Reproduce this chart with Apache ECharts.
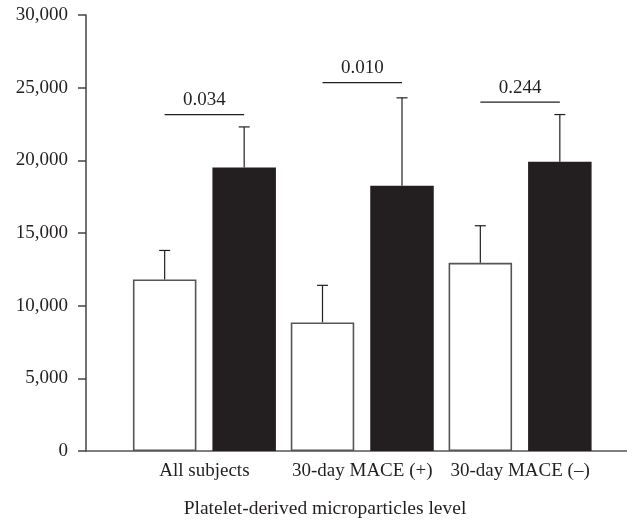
<!DOCTYPE html>
<html>
<head>
<meta charset="utf-8">
<script src="https://cdn.jsdelivr.net/npm/echarts@6/dist/echarts.min.js"></script>
<style>
  html, body { margin: 0; padding: 0; background: #fff; }
  #chart { width: 627px; height: 525px; }
</style>
</head>
<body>
<div id="chart"></div>
<script>
const categories = ['All subjects', '30-day MACE (+)', '30-day MACE (–)'];
const whiteMeans = [11800, 8850, 12950];
const whiteUpper = [13800, 11400, 15500];
const blackMeans = [19500, 18250, 19900];
const blackUpper = [22300, 24300, 23150];
const pValues = ['0.034', '0.010', '0.244'];
const bracketLevels = [23150, 25350, 24000];
const yTicks = [0, 5000, 10000, 15000, 20000, 25000, 30000];

const ink = '#231f20';
const font = '"Liberation Serif", "Times New Roman", serif';
const barWidth = 63.5;
const barGapPx = 16;
const halfOffset = (barWidth + barGapPx) / 2;

const chart = echarts.init(document.getElementById('chart'));

// upward-only error bar with a small cap
const errorRender = side => (params, api) => {
  const i = api.value(0);
  const base = api.coord([i, api.value(1)]);
  const top = api.coord([i, api.value(2)]);
  const x = base[0] + side * halfOffset;
  return {
    type: 'group',
    children: [
      { type: 'line', shape: { x1: x, y1: base[1], x2: x, y2: top[1] },
        style: { stroke: ink, lineWidth: 1.2 } },
      { type: 'line', shape: { x1: x - 5.5, y1: top[1], x2: x + 5.5, y2: top[1] },
        style: { stroke: ink, lineWidth: 1.2 } }
    ]
  };
};

chart.setOption({
  animation: false,
  grid: [
    { left: 125.5, right: 28, top: 15, bottom: 74 },
    { left: 86, right: 0, top: 15, bottom: 74 }
  ],
  title: {
    text: 'Platelet-derived microparticles level',
    left: 320,
    top: 494,
    textAlign: 'center',
    textStyle: { fontFamily: font, fontSize: 19.5, fontWeight: 'normal', color: ink }
  },
  xAxis: [
    {
      type: 'category',
      gridIndex: 0,
      data: categories,
      axisLine: { show: false },
      axisTick: { show: false },
      axisLabel: { fontFamily: font, fontSize: 19, color: ink, margin: 11, interval: 0 }
    },
    {
      type: 'value',
      gridIndex: 1,
      min: 0,
      max: 1,
      axisLine: { show: true, onZero: false, lineStyle: { color: '#555', width: 1.5 } },
      axisTick: { show: false },
      axisLabel: { show: false },
      splitLine: { show: false }
    }
  ],
  yAxis: [
    {
      type: 'value',
      gridIndex: 0,
      min: 0,
      max: 30000,
      interval: 5000,
      show: false
    },
    {
      type: 'value',
      gridIndex: 1,
      min: 0,
      max: 30000,
      interval: 5000,
      axisLine: { show: true, lineStyle: { color: '#444', width: 1.5 } },
      axisTick: { show: true, length: 8, lineStyle: { color: '#444', width: 1.5 } },
      axisLabel: {
        fontFamily: font, fontSize: 19, color: ink, margin: 18,
        formatter: v => yTicks.includes(v) ? v.toLocaleString('en-US') : ''
      },
      splitLine: { show: false }
    }
  ],
  series: [
    {
      type: 'bar',
      xAxisIndex: 0,
      yAxisIndex: 0,
      data: whiteMeans,
      barWidth: barWidth,
      barGap: (barGapPx / barWidth * 100) + '%',
      itemStyle: { color: '#fff', borderColor: '#555', borderWidth: 1.6 },
      z: 2
    },
    {
      type: 'bar',
      xAxisIndex: 0,
      yAxisIndex: 0,
      data: blackMeans,
      barWidth: barWidth,
      itemStyle: { color: ink },
      z: 2
    },
    {
      type: 'custom',
      xAxisIndex: 0,
      yAxisIndex: 0,
      data: whiteMeans.map((m, i) => [i, m, whiteUpper[i]]),
      renderItem: errorRender(-1),
      z: 3
    },
    {
      type: 'custom',
      xAxisIndex: 0,
      yAxisIndex: 0,
      data: blackMeans.map((m, i) => [i, m, blackUpper[i]]),
      renderItem: errorRender(1),
      z: 3
    },
    {
      type: 'custom',
      xAxisIndex: 0,
      yAxisIndex: 0,
      data: bracketLevels.map((y, i) => [i, y]),
      renderItem: (params, api) => {
        const i = api.value(0);
        const p = api.coord([i, api.value(1)]);
        return {
          type: 'group',
          children: [
            { type: 'line',
              shape: { x1: p[0] - halfOffset, y1: p[1], x2: p[0] + halfOffset, y2: p[1] },
              style: { stroke: ink, lineWidth: 1.2 } },
            { type: 'text',
              style: {
                text: pValues[params.dataIndex],
                x: p[0], y: p[1] - 5,
                align: 'center', verticalAlign: 'bottom',
                font: '19px ' + font, fill: ink
              } }
          ]
        };
      },
      z: 3
    }
  ]
});
</script>
</body>
</html>
